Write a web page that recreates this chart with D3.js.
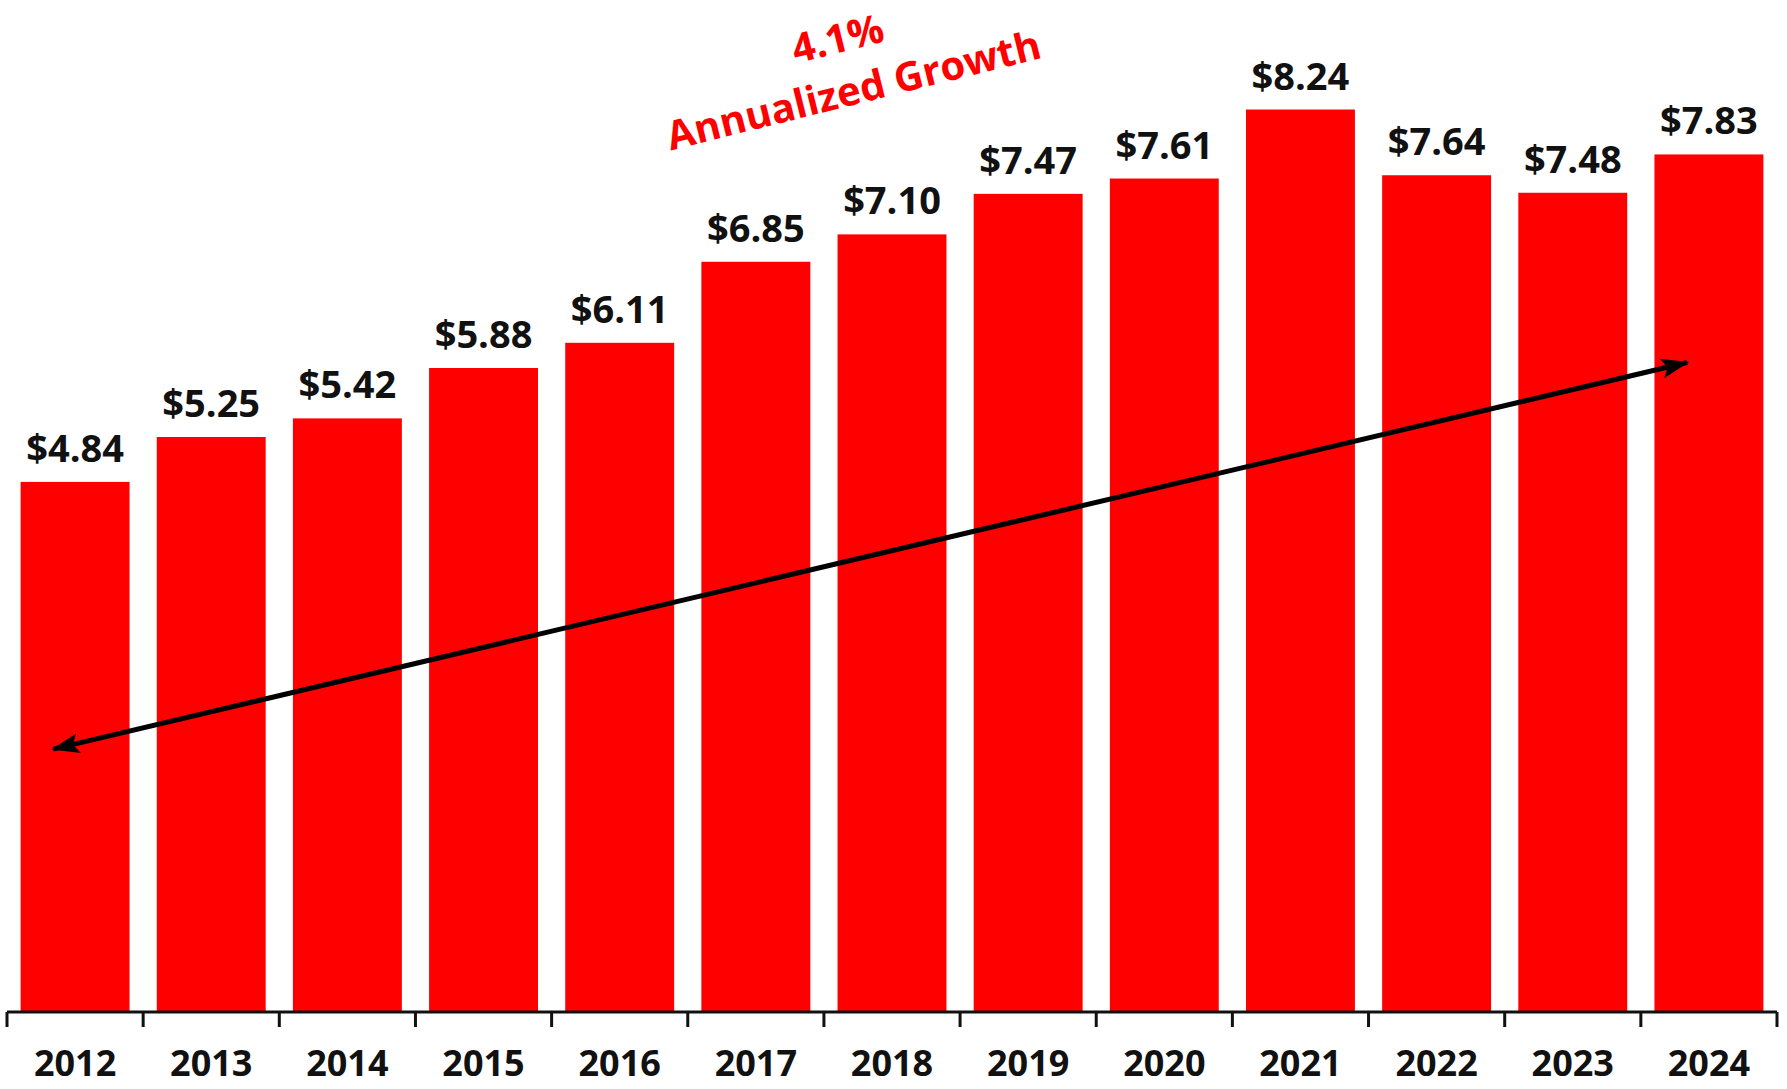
<!DOCTYPE html>
<html>
<head>
<meta charset="utf-8">
<script src="https://cdn.jsdelivr.net/npm/d3@7"></script>
<style>
  html, body { margin: 0; padding: 0; background: #ffffff; }
  svg { display: block; }
</style>
</head>
<body>
<div id="chart"></div>
<script>
// ---- data ----
const years = ["2012","2013","2014","2015","2016","2017","2018","2019","2020","2021","2022","2023","2024"];
const values = [4.84, 5.25, 5.42, 5.88, 6.11, 6.85, 7.10, 7.47, 7.61, 8.24, 7.64, 7.48, 7.83];
const valueLabels = ["$4.84","$5.25","$5.42","$5.88","$6.11","$6.85","$7.10","$7.47","$7.61","$8.24","$7.64","$7.48","$7.83"];
const growthRate = "4.1%";
const growthLabel = "Annualized Growth";
// trend arrow endpoints in data space [category, value]
const arrowStart = ["2012", 2.40];
const arrowEnd = ["2024", 5.93];

// ---- layout ----
const W = 1787, H = 1089;
const axisY = 1012;
const svg = d3.select("#chart").append("svg").attr("width", W).attr("height", H);

const x = d3.scaleBand().domain(years).range([7, 1777]).paddingInner(0.2).paddingOuter(0.1);
const y = d3.scaleLinear().domain([0, 9.24]).range([axisY, 0]);

const FONT = "'Open Sans', 'DejaVu Sans', sans-serif";

// bars
svg.append("g").selectAll("rect").data(years).join("rect")
  .attr("x", d => x(d))
  .attr("y", (d, i) => y(values[i]))
  .attr("width", x.bandwidth())
  .attr("height", (d, i) => axisY - y(values[i]))
  .attr("fill", "#ff0000");

// value labels
svg.append("g").selectAll("text").data(years).join("text")
  .attr("x", d => x(d) + x.bandwidth() / 2)
  .attr("y", (d, i) => y(values[i]) - 20)
  .attr("text-anchor", "middle")
  .attr("font-family", FONT)
  .attr("font-weight", "bold")
  .attr("font-size", 38)
  .attr("fill", "#111")
  .text((d, i) => valueLabels[i]);

// x axis: line with ticks at band boundaries
const step = x.step();
const boundaries = years.map(d => x(d) - (step - x.bandwidth()) / 2).concat([x.range()[1]]);
const axis = svg.append("g");
axis.append("line")
  .attr("x1", x.range()[0]).attr("x2", x.range()[1])
  .attr("y1", axisY).attr("y2", axisY)
  .attr("stroke", "#111").attr("stroke-width", 3);
axis.selectAll("line.tick").data(boundaries).join("line")
  .attr("class", "tick")
  .attr("x1", d => d).attr("x2", d => d)
  .attr("y1", axisY).attr("y2", axisY + 15)
  .attr("stroke", "#111").attr("stroke-width", 3);
axis.selectAll("text").data(years).join("text")
  .attr("x", d => x(d) + x.bandwidth() / 2)
  .attr("y", 1076)
  .attr("text-anchor", "middle")
  .attr("font-family", FONT)
  .attr("font-weight", "bold")
  .attr("font-size", 36)
  .attr("fill", "#111")
  .text(d => d);

// trend arrow (double headed)
const defs = svg.append("defs");
["start", "end"].forEach(k => {
  defs.append("marker")
    .attr("id", "arrow-" + k)
    .attr("viewBox", "0 0 28 22")
    .attr("refX", k === "end" ? 26 : 2)
    .attr("refY", 11)
    .attr("markerWidth", 28)
    .attr("markerHeight", 22)
    .attr("markerUnits", "userSpaceOnUse")
    .attr("orient", "auto")
    .append("path")
    .attr("d", k === "end" ? "M0,1 L28,11 L0,21 L6,11 Z" : "M28,1 L0,11 L28,21 L22,11 Z")
    .attr("fill", "#000");
});
const ax = c => x(c) + x.bandwidth() * 0.3;
svg.append("line")
  .attr("x1", ax(arrowStart[0])).attr("y1", y(arrowStart[1]))
  .attr("x2", ax(arrowEnd[0])).attr("y2", y(arrowEnd[1]))
  .attr("stroke", "#000").attr("stroke-width", 5)
  .attr("marker-start", "url(#arrow-start)")
  .attr("marker-end", "url(#arrow-end)");

// growth annotation (rotated)
const ann = svg.append("g").attr("transform", "translate(857,104) rotate(-14)");
ann.append("text")
  .attr("x", 0).attr("y", 0)
  .attr("text-anchor", "middle")
  .attr("font-family", FONT).attr("font-weight", "bold").attr("font-size", 40)
  .attr("fill", "#ff0000")
  .text(growthLabel);
ann.append("text")
  .attr("x", -3).attr("y", -54)
  .attr("text-anchor", "middle")
  .attr("font-family", FONT).attr("font-weight", "bold").attr("font-size", 40)
  .attr("fill", "#ff0000")
  .text(growthRate);
</script>
</body>
</html>
